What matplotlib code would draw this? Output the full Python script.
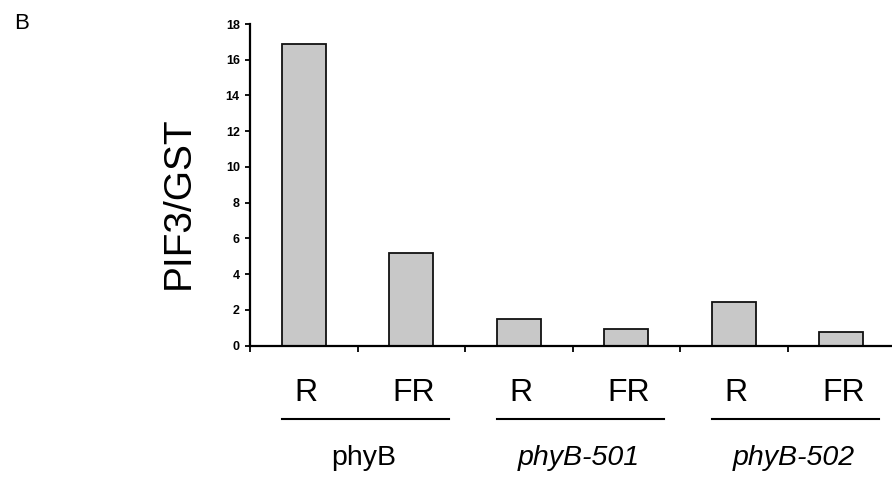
import matplotlib
matplotlib.use("Agg")
import matplotlib.pyplot as plt

plt.rcParams['font.family'] = ['Liberation Sans', 'DejaVu Sans']

conditions = ["R", "FR", "R", "FR", "R", "FR"]
values = [16.87, 5.17, 1.48, 0.93, 2.43, 0.78]
genotypes = ["phyB", "phyB-501", "phyB-502"]
genotype_style = ["normal", "italic", "italic"]
yticks = [0, 2, 4, 6, 8, 10, 12, 14, 16, 18]

W, H = 892, 483
fig = plt.figure(figsize=(W / 100, H / 100), dpi=100)
# axes box in pixels: left 250, right 895 (runs off the image), y0 at 345.7, y18 at 24
ax = fig.add_axes([250 / W, 1 - 345.7 / H, 645 / W, (345.7 - 24) / H])

x = [i + 0.5 for i in range(len(values))]
ax.bar(x, values, width=0.41, color='#c8c8c8', edgecolor='#111111', linewidth=1.3)

ax.set_xlim(0, 6)
ax.set_ylim(0, 18)
ax.set_yticks(yticks)
ax.set_yticklabels([str(t) for t in yticks], fontsize=9, fontweight='bold')
ax.set_xticks(range(0, 7))
ax.set_xticklabels([])
ax.tick_params(axis='y', direction='out', length=3.3, width=1.3, pad=4)
ax.tick_params(axis='x', direction='out', length=4.5, width=1.3)
for s in ['top', 'right']:
    ax.spines[s].set_visible(False)
for s in ['left', 'bottom']:
    ax.spines[s].set_linewidth(1.6)

trans = ax.get_xaxis_transform()
for xi, c in zip(x, conditions):
    ax.text(xi + 0.02, -0.171, c, transform=trans, ha='center', va='baseline',
            fontsize=23, clip_on=False)

for g, (name, st) in enumerate(zip(genotypes, genotype_style)):
    x0 = 2 * g
    ax.plot([x0 + 0.3, x0 + 1.85], [-0.229, -0.229], transform=trans,
            color='black', lw=1.5, clip_on=False)
    ax.text(x0 + 1.06, -0.37, name, transform=trans, ha='center', va='baseline',
            fontsize=20.5, style=st, clip_on=False)

fig.text(179 / W, 1 - 203 / H, "PIF3/GST", rotation=90, ha='center', va='center',
         fontsize=28)
fig.text(14 / W, 1 - 29.3 / H, "B", ha='left', va='baseline', fontsize=16)

fig.savefig("out.png", dpi=100)
